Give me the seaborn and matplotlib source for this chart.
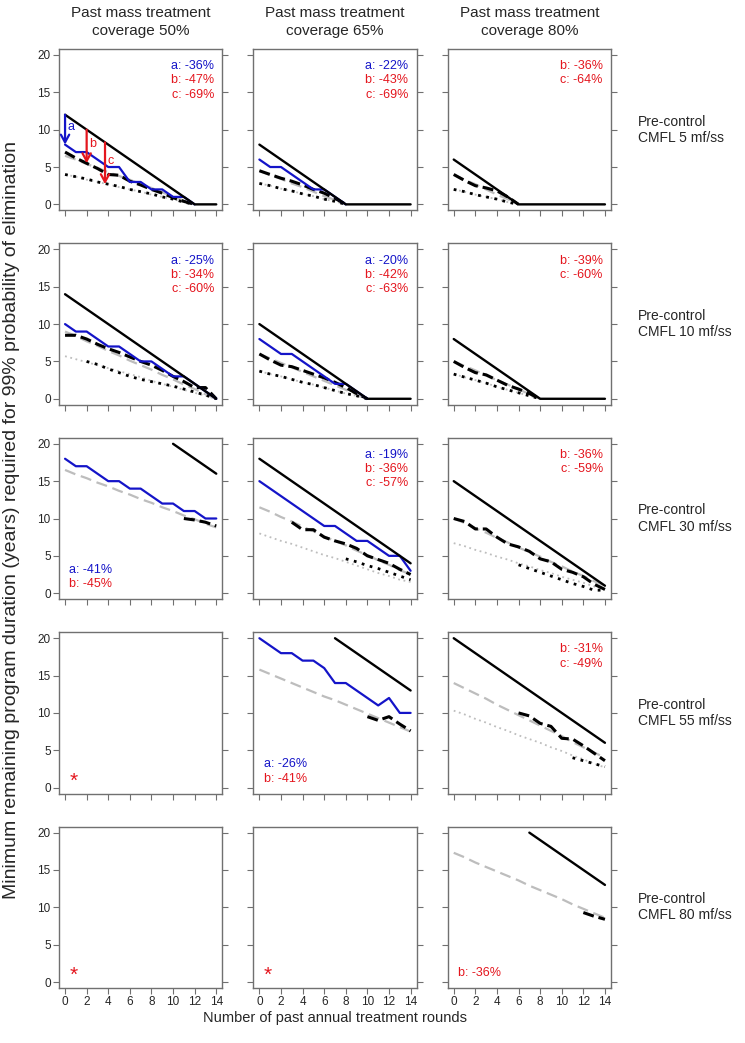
import numpy as np
import matplotlib
matplotlib.use("Agg")
import matplotlib.pyplot as plt
import seaborn as sns

# ============================================
# DATA
# ============================================
nan = np.nan
rounds = list(range(15))
coverages = ["50%", "65%", "80%"]
cmfl_levels = ["5", "10", "30", "55", "80"]
x_ticks = [0, 2, 4, 6, 8, 10, 12, 14]
y_ticks = [0, 5, 10, 15, 20]

# CMFL 5 mf/ss
p50_5_solid = [12, 11, 10, 9, 8, 7, 6, 5, 4, 3, 2, 1, 0, 0, 0]
p50_5_blue = [8, 7, 7, 6, 5, 5, 3, 3, 2, 2, 1, 1, 0, nan, nan]
p50_5_dash = [7, 6.2, 5.5, 4.8, 4.0, 3.9, 3.1, 2.6, 2.0, 1.5, 0.9, 0.4, 0, nan, nan]
p50_5_gdash = [6.5, 6.0, 5.4, 4.9, 4.3, 3.8, 3.3, 2.7, 2.2, 1.6, 1.1, 0.5, 0, nan, nan]
p50_5_dot = [4.0, 3.7, 3.4, 3.0, 2.7, 2.4, 2.0, 1.7, 1.4, 1.0, 0.7, 0.3, 0, nan, nan]
p50_5_gdot = [4.0, 3.7, 3.3, 3.0, 2.7, 2.3, 2.0, 1.7, 1.3, 1.0, 0.7, 0.3, 0, nan, nan]

p65_5_solid = [8, 7, 6, 5, 4, 3, 2, 1, 0, 0, 0, 0, 0, 0, 0]
p65_5_blue = [6, 5, 5, 4, 3, 2, 2, 1, 0, nan, nan, nan, nan, nan, nan]
p65_5_dash = [4.5, 4.0, 3.5, 3.1, 2.6, 2.0, 1.5, 0.8, 0, nan, nan, nan, nan, nan, nan]
p65_5_gdash = [4.5, 3.9, 3.4, 2.8, 2.3, 1.7, 1.1, 0.6, 0, nan, nan, nan, nan, nan, nan]
p65_5_dot = [2.8, 2.5, 2.1, 1.8, 1.4, 1.1, 0.7, 0.4, 0, nan, nan, nan, nan, nan, nan]
p65_5_gdot = [2.8, 2.5, 2.1, 1.8, 1.4, 1.1, 0.7, 0.4, 0, nan, nan, nan, nan, nan, nan]

p80_5_solid = [6, 5, 4, 3, 2, 1, 0, 0, 0, 0, 0, 0, 0, 0, 0]
p80_5_dash = [4.0, 3.2, 2.5, 2.2, 1.8, 1.0, 0, nan, nan, nan, nan, nan, nan, nan, nan]
p80_5_gdash = [4.0, 3.3, 2.7, 2.0, 1.3, 0.7, 0, nan, nan, nan, nan, nan, nan, nan, nan]
p80_5_dot = [2.0, 1.7, 1.3, 1.0, 0.7, 0.3, 0, nan, nan, nan, nan, nan, nan, nan, nan]
p80_5_gdot = [2.0, 1.7, 1.3, 1.0, 0.7, 0.3, 0, nan, nan, nan, nan, nan, nan, nan, nan]

# CMFL 10 mf/ss
p50_10_solid = [14, 13, 12, 11, 10, 9, 8, 7, 6, 5, 4, 3, 2, 1, 0]
p50_10_blue = [10, 9, 9, 8, 7, 7, 6, 5, 5, 4, 3, 3, 2, 1, 0]
p50_10_dash = [8.5, 8.5, 8.0, 7.3, 6.7, 6.2, 5.6, 5.0, 4.5, 3.8, 3.0, 2.3, 1.5, 1.5, 0]
p50_10_gdash = [9.0, 8.4, 7.7, 7.1, 6.4, 5.8, 5.1, 4.5, 3.9, 3.2, 2.6, 1.9, 1.3, 0.6, 0]
p50_10_dot = [nan, nan, 5.0, 4.6, 4.0, 3.5, 3.0, 2.6, 2.3, 2.0, 1.7, 1.3, 0.9, 0.5, 0]
p50_10_gdot = [5.7, 5.3, 4.9, 4.5, 4.1, 3.7, 3.3, 2.9, 2.4, 2.0, 1.6, 1.2, 0.8, 0.4, 0]

p65_10_solid = [10, 9, 8, 7, 6, 5, 4, 3, 2, 1, 0, 0, 0, 0, 0]
p65_10_blue = [8, 7, 6, 6, 5, 4, 3, 2, 2, 1, 0, nan, nan, nan, nan]
p65_10_dash = [6.0, 5.2, 4.5, 4.3, 3.8, 3.3, 2.8, 2.2, 1.5, 0.7, 0, nan, nan, nan, nan]
p65_10_gdash = [6.0, 5.4, 4.8, 4.2, 3.6, 3.0, 2.4, 1.8, 1.2, 0.6, 0, nan, nan, nan, nan]
p65_10_dot = [3.7, 3.3, 3.0, 2.6, 2.2, 1.9, 1.5, 1.1, 0.7, 0.4, 0, nan, nan, nan, nan]
p65_10_gdot = [3.7, 3.3, 3.0, 2.6, 2.2, 1.9, 1.5, 1.1, 0.7, 0.4, 0, nan, nan, nan, nan]

p80_10_solid = [8, 7, 6, 5, 4, 3, 2, 1, 0, 0, 0, 0, 0, 0, 0]
p80_10_dash = [5.0, 4.2, 3.5, 3.2, 2.5, 1.8, 1.3, 0.7, 0, nan, nan, nan, nan, nan, nan]
p80_10_gdash = [5.0, 4.4, 3.8, 3.1, 2.5, 1.9, 1.3, 0.6, 0, nan, nan, nan, nan, nan, nan]
p80_10_dot = [3.3, 2.9, 2.5, 2.1, 1.6, 1.2, 0.8, 0.4, 0, nan, nan, nan, nan, nan, nan]
p80_10_gdot = [3.3, 2.9, 2.5, 2.1, 1.6, 1.2, 0.8, 0.4, 0, nan, nan, nan, nan, nan, nan]

# CMFL 30 mf/ss
p50_30_solid = [nan] * 10 + [20, 19, 18, 17, 16]
p50_30_blue = [18, 17, 17, 16, 15, 15, 14, 14, 13, 12, 12, 11, 11, 10, 10]
p50_30_dash = [nan] * 11 + [10.0, 9.8, 9.5, 9.0]
p50_30_gdash = [16.5, 15.9, 15.4, 14.8, 14.3, 13.7, 13.2, 12.6, 12.1, 11.5, 11.0, 10.4, 9.9, 9.3, 8.8]

p65_30_solid = [18, 17, 16, 15, 14, 13, 12, 11, 10, 9, 8, 7, 6, 5, 4]
p65_30_blue = [15, 14, 13, 12, 11, 10, 9, 9, 8, 7, 7, 6, 5, 5, 3]
p65_30_dash = [nan, nan, nan, 9.5, 8.5, 8.5, 7.5, 7.0, 6.6, 6.0, 5.0, 4.5, 4.0, 3.2, 2.5]
p65_30_gdash = [11.5, 10.9, 10.2, 9.6, 8.9, 8.3, 7.6, 7.0, 6.4, 5.7, 5.1, 4.4, 3.8, 3.1, 2.5]
p65_30_dot = [nan] * 8 + [4.6, 4.2, 3.7, 3.3, 2.8, 2.3, 1.8]
p65_30_gdot = [8.0, 7.5, 7.0, 6.6, 6.1, 5.6, 5.1, 4.7, 4.2, 3.7, 3.2, 2.7, 2.3, 1.8, 1.5]

p80_30_solid = [15, 14, 13, 12, 11, 10, 9, 8, 7, 6, 5, 4, 3, 2, 1]
p80_30_dash = [10.0, 9.6, 8.6, 8.6, 7.5, 6.6, 6.2, 5.6, 4.6, 4.2, 3.2, 2.8, 2.2, 1.2, 0.5]
p80_30_gdash = [10.0, 9.4, 8.7, 8.1, 7.4, 6.8, 6.1, 5.5, 4.9, 4.2, 3.6, 2.9, 2.3, 1.6, 1.0]
p80_30_dot = [nan] * 6 + [3.8, 3.3, 2.8, 2.3, 1.8, 1.3, 0.9, 0.4, 0.4]
p80_30_gdot = [6.7, 6.3, 5.8, 5.4, 4.9, 4.5, 4.0, 3.6, 3.1, 2.7, 2.2, 1.8, 1.4, 0.9, 0.5]

# CMFL 55 mf/ss
p65_55_solid = [nan] * 7 + [20, 19, 18, 17, 16, 15, 14, 13]
p65_55_blue = [20, 19, 18, 18, 17, 17, 16, 14, 14, 13, 12, 11, 12, 10, 10]
p65_55_dash = [nan] * 10 + [9.5, 9.0, 9.5, 8.5, 7.6]
p65_55_gdash = [15.8, 15.2, 14.6, 14.0, 13.4, 12.8, 12.2, 11.7, 11.1, 10.5, 9.9, 9.3, 8.7, 8.1, 7.5]

p80_55_solid = [20, 19, 18, 17, 16, 15, 14, 13, 12, 11, 10, 9, 8, 7, 6]
p80_55_dash = [nan] * 6 + [10.0, 9.6, 8.6, 8.2, 6.6, 6.5, 5.6, 4.6, 3.6]
p80_55_gdash = [14.0, 13.3, 12.6, 11.9, 11.1, 10.4, 9.7, 9.0, 8.3, 7.6, 6.9, 6.1, 5.4, 4.7, 4.0]
p80_55_dot = [nan] * 11 + [4.0, 3.6, 3.2, 2.8]
p80_55_gdot = [10.3, 9.8, 9.2, 8.7, 8.1, 7.6, 7.0, 6.5, 6.0, 5.4, 4.9, 4.3, 3.8, 3.2, 2.7]

# CMFL 80 mf/ss
p80_80_solid = [nan] * 7 + [20, 19, 18, 17, 16, 15, 14, 13]
p80_80_dash = [nan] * 12 + [9.3, 8.8, 8.4]
p80_80_gdash = [17.3, 16.7, 16.0, 15.4, 14.8, 14.2, 13.6, 12.9, 12.3, 11.7, 11.1, 10.4, 9.8, 9.2, 8.6]

# reduction labels
notes_50_5 = ["a: -36%", "b: -47%", "c: -69%"]
notes_65_5 = ["a: -22%", "b: -43%", "c: -69%"]
notes_80_5 = ["b: -36%", "c: -64%"]
notes_50_10 = ["a: -25%", "b: -34%", "c: -60%"]
notes_65_10 = ["a: -20%", "b: -42%", "c: -63%"]
notes_80_10 = ["b: -39%", "c: -60%"]
notes_50_30 = ["a: -41%", "b: -45%"]
notes_65_30 = ["a: -19%", "b: -36%", "c: -57%"]
notes_80_30 = ["b: -36%", "c: -59%"]
notes_65_55 = ["a: -26%", "b: -41%"]
notes_80_55 = ["b: -31%", "c: -49%"]
notes_80_80 = ["b: -36%"]

# arrows a, b, c in the first panel
arrow_labels = ["a", "b", "c"]
arrow_x = [0, 2, 3.7]
arrow_top = [12, 10, 8.3]
arrow_bottom = [8, 5.5, 2.7]

# (row, col) -> lines, notes, where the notes go
panels = {
    (0, 0): dict(solid=p50_5_solid, blue=p50_5_blue, dash=p50_5_dash, gdash=p50_5_gdash,
                 dot=p50_5_dot, gdot=p50_5_gdot, notes=notes_50_5, pos="top"),
    (0, 1): dict(solid=p65_5_solid, blue=p65_5_blue, dash=p65_5_dash, gdash=p65_5_gdash,
                 dot=p65_5_dot, gdot=p65_5_gdot, notes=notes_65_5, pos="top"),
    (0, 2): dict(solid=p80_5_solid, dash=p80_5_dash, gdash=p80_5_gdash,
                 dot=p80_5_dot, gdot=p80_5_gdot, notes=notes_80_5, pos="top"),
    (1, 0): dict(solid=p50_10_solid, blue=p50_10_blue, dash=p50_10_dash, gdash=p50_10_gdash,
                 dot=p50_10_dot, gdot=p50_10_gdot, notes=notes_50_10, pos="top"),
    (1, 1): dict(solid=p65_10_solid, blue=p65_10_blue, dash=p65_10_dash, gdash=p65_10_gdash,
                 dot=p65_10_dot, gdot=p65_10_gdot, notes=notes_65_10, pos="top"),
    (1, 2): dict(solid=p80_10_solid, dash=p80_10_dash, gdash=p80_10_gdash,
                 dot=p80_10_dot, gdot=p80_10_gdot, notes=notes_80_10, pos="top"),
    (2, 0): dict(solid=p50_30_solid, blue=p50_30_blue, dash=p50_30_dash, gdash=p50_30_gdash,
                 notes=notes_50_30, pos="bottom"),
    (2, 1): dict(solid=p65_30_solid, blue=p65_30_blue, dash=p65_30_dash, gdash=p65_30_gdash,
                 dot=p65_30_dot, gdot=p65_30_gdot, notes=notes_65_30, pos="top"),
    (2, 2): dict(solid=p80_30_solid, dash=p80_30_dash, gdash=p80_30_gdash,
                 dot=p80_30_dot, gdot=p80_30_gdot, notes=notes_80_30, pos="top"),
    (3, 0): dict(star=True),
    (3, 1): dict(solid=p65_55_solid, blue=p65_55_blue, dash=p65_55_dash, gdash=p65_55_gdash,
                 notes=notes_65_55, pos="bottom"),
    (3, 2): dict(solid=p80_55_solid, dash=p80_55_dash, gdash=p80_55_gdash,
                 dot=p80_55_dot, gdot=p80_55_gdot, notes=notes_80_55, pos="top"),
    (4, 0): dict(star=True),
    (4, 1): dict(star=True),
    (4, 2): dict(solid=p80_80_solid, dash=p80_80_dash, gdash=p80_80_gdash,
                 notes=notes_80_80, pos="bottom"),
}

# ============================================
# STYLE
# ============================================
sns.set_style("white")
plt.rcParams['font.family'] = ['Liberation Sans', 'DejaVu Sans']

BLUE = '#1414c8'
RED = '#e4161e'
GRAY = '#bdbdbd'
FRAME = '#707070'

line_styles = {
    # name: (color, linewidth, linestyle)
    'gdot': (GRAY, 1.3, (0, (1, 2))),
    'gdash': (GRAY, 1.6, (0, (5, 2.6))),
    'dot': ('black', 2.0, (0, (1, 2))),
    'dash': ('black', 2.2, (0, (3.6, 1.6))),
    'blue': (BLUE, 1.6, '-'),
    'solid': ('black', 1.7, '-'),
}

fig, axes = plt.subplots(5, 3, figsize=(7.45, 10.43), dpi=100)
fig.subplots_adjust(left=59 / 745, right=611 / 745, top=1 - 49 / 1043,
                    bottom=1 - 988 / 1043, wspace=0.19, hspace=0.205)

# ============================================
# DRAW PANELS
# ============================================
for (r, c), ax in np.ndenumerate(axes):
    spec = panels[(r, c)]
    for name in ['gdot', 'gdash', 'dot', 'dash', 'blue', 'solid']:
        if name in spec:
            color, lw, ls = line_styles[name]
            sns.lineplot(x=rounds, y=spec[name], ax=ax, color=color, lw=lw,
                         linestyle=ls, errorbar=None, legend=False)

    if spec.get('star'):
        ax.text(0.8, 0.9, '*', color=RED, fontsize=15, ha='center', va='center')

    notes = spec.get('notes', [])
    for i, note in enumerate(notes):
        color = BLUE if note.startswith('a') else RED
        if spec['pos'] == 'top':
            ax.text(13.8, 18.5 - 1.9 * i, note, color=color, fontsize=9,
                    ha='right', va='center')
        else:
            ax.text(0.4, 1.2 + 1.9 * (len(notes) - 1 - i), note, color=color,
                    fontsize=9, ha='left', va='center')

    ax.set_xlim(-0.56, 14.56)
    ax.set_ylim(-0.8, 20.8)
    ax.set_xticks(x_ticks)
    ax.set_yticks(y_ticks)
    ax.set_xlabel('')
    ax.set_ylabel('')
    ax.tick_params(direction='out', length=4.5, width=0.8, color=FRAME,
                   labelsize=8.5, left=True, right=True, bottom=True,
                   labelleft=(c == 0), labelbottom=(r == 4), pad=1.5)
    for sp in ax.spines.values():
        sp.set_color(FRAME)
        sp.set_linewidth(1.0)

# arrows a, b, c in the first panel
ax0 = axes[0, 0]
for lab, xa, yt, yb in zip(arrow_labels, arrow_x, arrow_top, arrow_bottom):
    col = BLUE if lab == 'a' else RED
    ax0.annotate('', xy=(xa, yb), xytext=(xa, yt),
                 arrowprops=dict(arrowstyle='->,head_length=0.55,head_width=0.3',
                                 color=col, lw=1.6, shrinkA=0, shrinkB=0))
    ax0.text(xa + 0.25, (yt + yb) / 2 + 0.3, lab, color=col, fontsize=9,
             ha='left', va='center')

# column and row headers
for c, cov in enumerate(coverages):
    pos = axes[0, c].get_position()
    fig.text((pos.x0 + pos.x1) / 2, 1 - 22 / 1043,
             'Past mass treatment\ncoverage ' + cov,
             ha='center', va='center', fontsize=11, linespacing=1.35)

for r, lvl in enumerate(cmfl_levels):
    pos = axes[r, 2].get_position()
    fig.text(638 / 745, (pos.y0 + pos.y1) / 2,
             'Pre-control\nCMFL ' + lvl + ' mf/ss',
             ha='left', va='center', fontsize=10, linespacing=1.2)

fig.text(335 / 745, 1 - 1018 / 1043, 'Number of past annual treatment rounds',
         ha='center', va='center', fontsize=10.5)
fig.text(12 / 745, 1 - 520 / 1043,
         'Minimum remaining program duration (years) required for 99% probability of elimination',
         ha='center', va='center', rotation=90, fontsize=14)

plt.savefig('out.png', dpi=100)
